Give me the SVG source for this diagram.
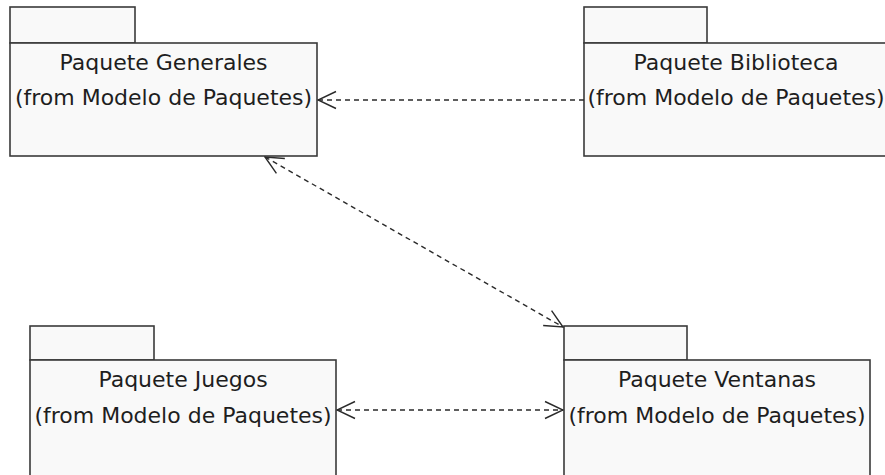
<svg xmlns="http://www.w3.org/2000/svg" width="885" height="475" viewBox="0 0 885 475">
  <style>
    .pkg { fill: #f9f9f9; stroke: #3a3a3a; stroke-width: 1.6; }
    .lbl { font-family: "DejaVu Sans", "Liberation Sans", sans-serif; font-size: 22px; fill: #1e1e1e; text-anchor: middle; }
    .dep { fill: none; stroke: #2a2a2a; stroke-width: 1.4; stroke-dasharray: 5 4; }
  </style>
  <defs>
    <marker id="open" markerUnits="userSpaceOnUse" viewBox="-21 -11 22 22" markerWidth="22" markerHeight="22" refX="0" refY="0" orient="auto-start-reverse">
      <path d="M-18,-8.5 L0,0 L-18,8.5" fill="none" stroke="#2a2a2a" stroke-width="1.4"/>
    </marker>
  </defs>
  <rect width="885" height="475" fill="#ffffff"/>

  <g id="pkg-generales">
    <rect class="pkg" x="10" y="7" width="125" height="36"/>
    <rect class="pkg" x="10" y="43" width="307" height="113"/>
    <text class="lbl" x="163.5" y="70">Paquete Generales</text>
    <text class="lbl" x="163.5" y="105">(from Modelo de Paquetes)</text>
  </g>

  <g id="pkg-biblioteca">
    <rect class="pkg" x="584" y="7" width="123" height="36"/>
    <rect class="pkg" x="584" y="43" width="305" height="113"/>
    <text class="lbl" x="736" y="70">Paquete Biblioteca</text>
    <text class="lbl" x="736" y="105">(from Modelo de Paquetes)</text>
  </g>

  <g id="pkg-juegos">
    <rect class="pkg" x="30" y="326" width="124" height="34"/>
    <rect class="pkg" x="30" y="360" width="306" height="130"/>
    <text class="lbl" x="183" y="387">Paquete Juegos</text>
    <text class="lbl" x="183" y="423">(from Modelo de Paquetes)</text>
  </g>

  <g id="pkg-ventanas">
    <rect class="pkg" x="564" y="326" width="123" height="34"/>
    <rect class="pkg" x="564" y="360" width="306" height="130"/>
    <text class="lbl" x="717" y="387">Paquete Ventanas</text>
    <text class="lbl" x="717" y="423">(from Modelo de Paquetes)</text>
  </g>

  <g id="connectors">
    <line class="dep" x1="584" y1="100" x2="318" y2="100" marker-end="url(#open)"/>
    <line class="dep" x1="265" y1="157" x2="563" y2="327" marker-start="url(#open)" marker-end="url(#open)"/>
    <line class="dep" x1="337" y1="410" x2="563" y2="410" marker-start="url(#open)" marker-end="url(#open)"/>
  </g>
</svg>
